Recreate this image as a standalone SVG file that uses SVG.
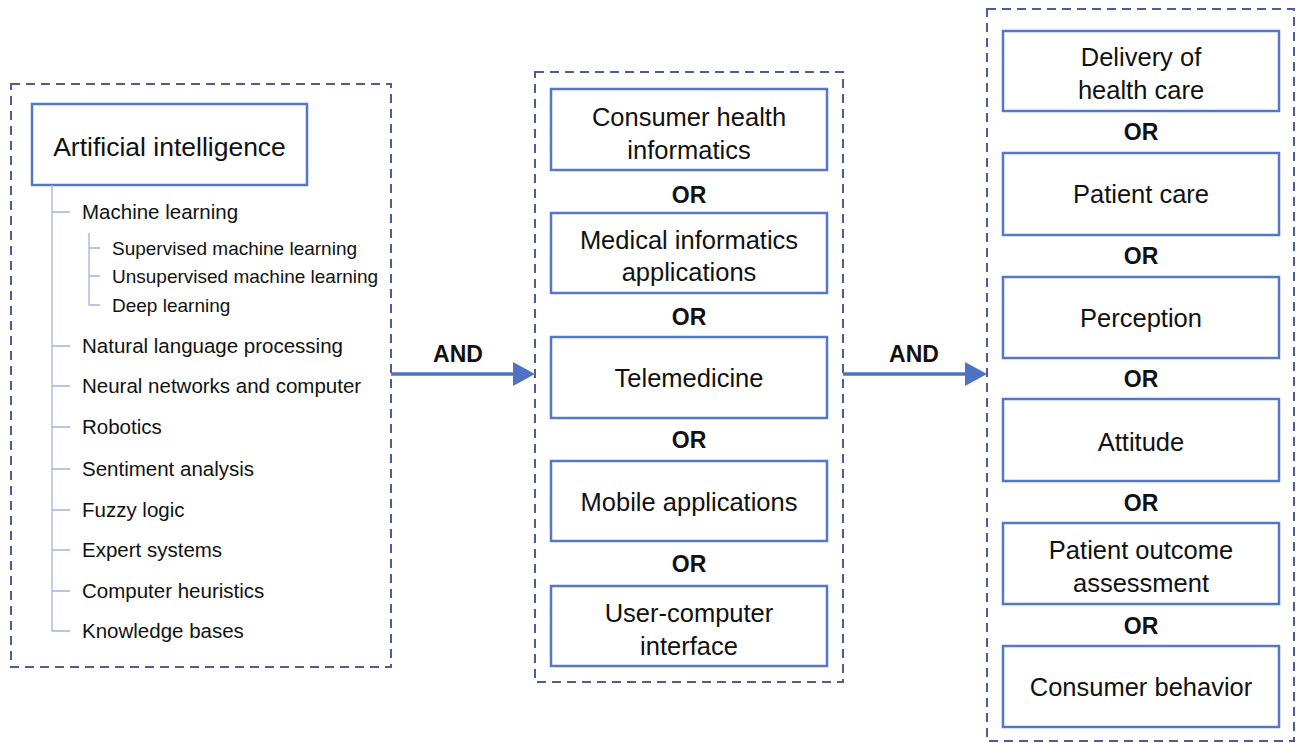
<svg xmlns="http://www.w3.org/2000/svg" width="1296" height="743" viewBox="0 0 1296 743">
  <style>
    .group { fill: none; stroke: #4a5e96; stroke-width: 2; stroke-dasharray: 9 6; }
    .box { fill: #ffffff; stroke: #5577c8; stroke-width: 2.5; }
    .tree { fill: none; stroke: #9fb4e2; stroke-width: 1.3; }
    .link { fill: none; stroke: #4f72c4; stroke-width: 3.5; }
    .head { fill: #4f72c4; }
    text { font-family: "Liberation Sans", Arial, sans-serif; fill: #111111; }
    .title { font-size: 26.5px; text-anchor: middle; }
    .item { font-size: 20.5px; }
    .sub { font-size: 19px; }
    .label { font-size: 25.5px; text-anchor: middle; }
    .op { font-size: 23px; font-weight: bold; text-anchor: middle; }
  </style>
  <rect width="1296" height="743" fill="#ffffff"/>

  <!-- left column: AI term tree -->
  <g id="ai-group">
    <rect class="group" x="11" y="84" width="380" height="583"/>
    <g id="ai-root">
      <rect class="box" x="32" y="104" width="275" height="81"/>
      <text class="title" x="169.5" y="156">Artificial intelligence</text>
    </g>
    <g id="ai-tree">
      <path class="tree" d="M52,185 V631 H70 M52,212 H70 M52,346 H70 M52,386 H70 M52,427 H70 M52,469 H70 M52,510 H70 M52,550 H70 M52,591 H70"/>
      <path class="tree" d="M89,233 V305 H100 M89,248 H100 M89,276 H100"/>
      <text class="item" x="82" y="219">Machine learning</text>
      <text class="sub" x="112" y="254.5">Supervised machine learning</text>
      <text class="sub" x="112" y="282.5">Unsupervised machine learning</text>
      <text class="sub" x="112" y="311.5">Deep learning</text>
      <text class="item" x="82" y="353">Natural language processing</text>
      <text class="item" x="82" y="393">Neural networks and computer</text>
      <text class="item" x="82" y="434">Robotics</text>
      <text class="item" x="82" y="476">Sentiment analysis</text>
      <text class="item" x="82" y="517">Fuzzy logic</text>
      <text class="item" x="82" y="557">Expert systems</text>
      <text class="item" x="82" y="598">Computer heuristics</text>
      <text class="item" x="82" y="638">Knowledge bases</text>
    </g>
  </g>

  <!-- middle column: informatics terms -->
  <g id="informatics-group">
    <rect class="group" x="535" y="72" width="308" height="610"/>
    <g id="consumer-health-informatics">
      <rect class="box" x="551" y="89" width="276" height="81"/>
      <text class="label" x="689" y="126">Consumer health</text>
      <text class="label" x="689" y="159">informatics</text>
    </g>
    <text class="op" x="689" y="203">OR</text>
    <g id="medical-informatics-applications">
      <rect class="box" x="551" y="213" width="276" height="80"/>
      <text class="label" x="689" y="249">Medical informatics</text>
      <text class="label" x="689" y="281">applications</text>
    </g>
    <text class="op" x="689" y="325">OR</text>
    <g id="telemedicine">
      <rect class="box" x="551" y="337" width="276" height="81"/>
      <text class="label" x="689" y="387">Telemedicine</text>
    </g>
    <text class="op" x="689" y="448">OR</text>
    <g id="mobile-applications">
      <rect class="box" x="551" y="461" width="276" height="80"/>
      <text class="label" x="689" y="511">Mobile applications</text>
    </g>
    <text class="op" x="689" y="572">OR</text>
    <g id="user-computer-interface">
      <rect class="box" x="551" y="586" width="276" height="80"/>
      <text class="label" x="689" y="622">User-computer</text>
      <text class="label" x="689" y="655">interface</text>
    </g>
  </g>

  <!-- right column: care and behaviour terms -->
  <g id="care-group">
    <rect class="group" x="987" y="9" width="307" height="732"/>
    <g id="delivery-of-health-care">
      <rect class="box" x="1003" y="31" width="276" height="80"/>
      <text class="label" x="1141" y="66">Delivery of</text>
      <text class="label" x="1141" y="99">health care</text>
    </g>
    <text class="op" x="1141" y="140">OR</text>
    <g id="patient-care">
      <rect class="box" x="1003" y="153" width="276" height="82"/>
      <text class="label" x="1141" y="203">Patient care</text>
    </g>
    <text class="op" x="1141" y="264">OR</text>
    <g id="perception">
      <rect class="box" x="1003" y="277" width="276" height="81"/>
      <text class="label" x="1141" y="327">Perception</text>
    </g>
    <text class="op" x="1141" y="387">OR</text>
    <g id="attitude">
      <rect class="box" x="1003" y="399" width="276" height="82"/>
      <text class="label" x="1141" y="451">Attitude</text>
    </g>
    <text class="op" x="1141" y="511">OR</text>
    <g id="patient-outcome-assessment">
      <rect class="box" x="1003" y="523" width="276" height="81"/>
      <text class="label" x="1141" y="559">Patient outcome</text>
      <text class="label" x="1141" y="592">assessment</text>
    </g>
    <text class="op" x="1141" y="634">OR</text>
    <g id="consumer-behavior">
      <rect class="box" x="1003" y="646" width="276" height="81"/>
      <text class="label" x="1141" y="696">Consumer behavior</text>
    </g>
  </g>

  <!-- AND connectors between the columns -->
  <g id="connectors">
    <line class="link" x1="391" y1="374" x2="514" y2="374"/>
    <path class="head" d="M513,362 L535,374 L513,386 Z"/>
    <text class="op" x="458" y="362">AND</text>
    <line class="link" x1="843" y1="374" x2="966" y2="374"/>
    <path class="head" d="M965,362 L987,374 L965,386 Z"/>
    <text class="op" x="914" y="362">AND</text>
  </g>
</svg>
